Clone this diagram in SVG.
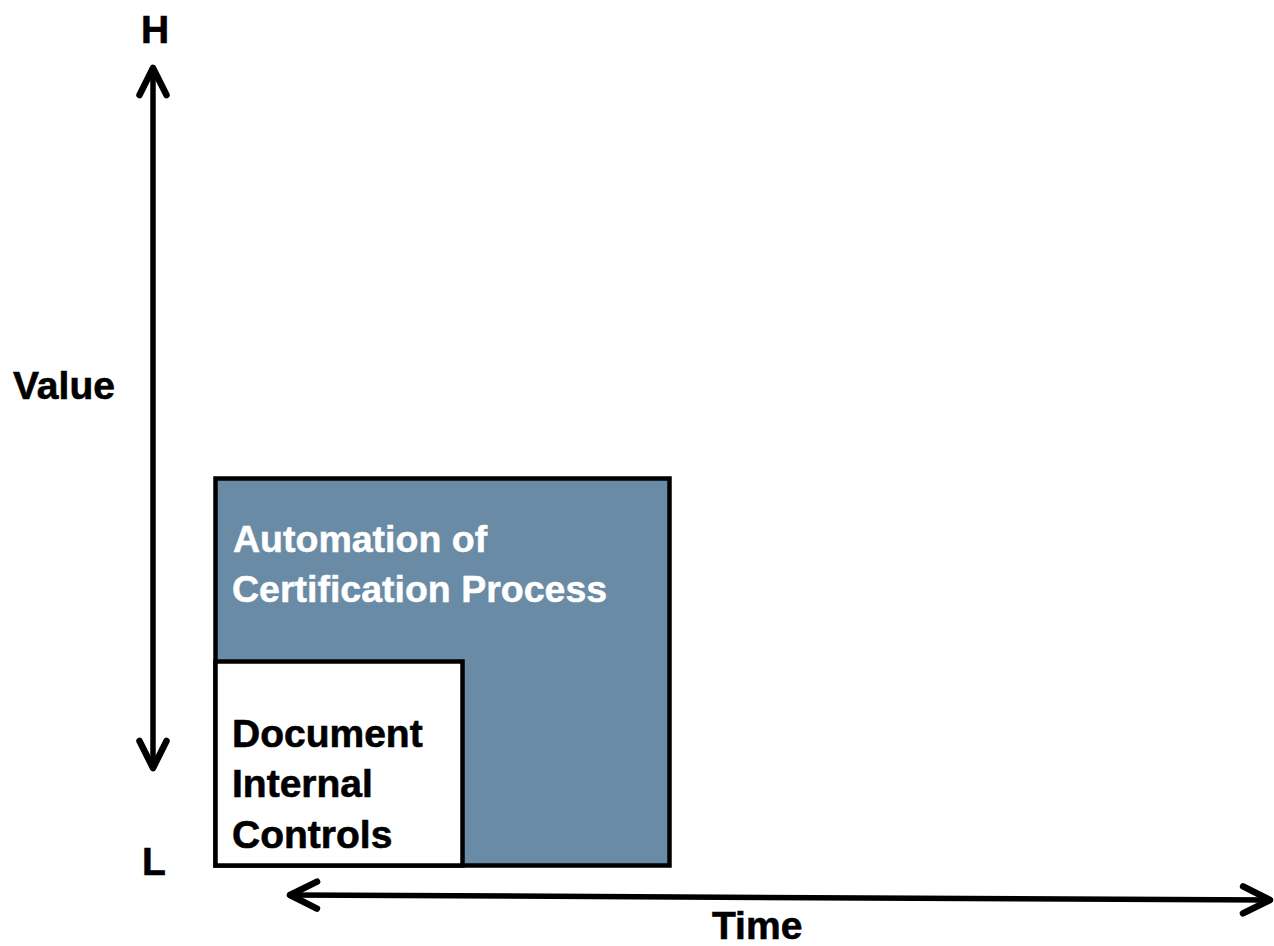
<svg xmlns="http://www.w3.org/2000/svg" width="1274" height="946" viewBox="0 0 1274 946">
  <style>
    .lbl { font-family: "Liberation Sans", Arial, sans-serif; font-weight: bold; font-size: 39px; fill: #000; stroke: #000; stroke-width: 0.6; }
    .lbl-w { font-size: 37.5px; fill: #fff; stroke: #fff; stroke-width: 0.5; }
    .axis { fill: none; stroke: #000; stroke-width: 5.5; stroke-linecap: round; }
    .box { stroke: #000; stroke-width: 4.5; }
  </style>
  <defs>
    <marker id="chev" markerUnits="userSpaceOnUse" viewBox="-32 -18 36 36" markerWidth="36" markerHeight="36" refX="0" refY="0" orient="auto-start-reverse" overflow="visible">
      <path d="M-27,-13.5 L0,0 L-27,13.5" fill="none" stroke="#000" stroke-width="6.5" stroke-linecap="round" stroke-linejoin="round"/>
    </marker>
  </defs>

  <rect width="1274" height="946" fill="#fff"/>

  <!-- axes -->
  <g id="connectors">
    <line class="axis" x1="153" y1="68" x2="153" y2="768" marker-start="url(#chev)" marker-end="url(#chev)"/>
    <line class="axis" x1="290" y1="895" x2="1270" y2="900" marker-start="url(#chev)" marker-end="url(#chev)"/>
  </g>

  <!-- axis labels -->
  <g id="axis-labels">
    <text class="lbl" x="155" y="43" text-anchor="middle">H</text>
    <text class="lbl" x="142" y="875">L</text>
    <text class="lbl" x="13" y="399">Value</text>
    <text class="lbl" x="712" y="939">Time</text>
  </g>

  <g id="automation">
    <rect class="box" x="215.5" y="478.5" width="454" height="387" fill="#6a8ba5"/>
    <text class="lbl lbl-w" x="233" y="552">Automation of</text>
    <text class="lbl lbl-w" x="232" y="602">Certification Process</text>
  </g>

  <g id="document-controls">
    <rect class="box" x="215.5" y="661.5" width="247" height="204" fill="#fff"/>
    <text class="lbl" x="232" y="747">Document</text>
    <text class="lbl" x="232" y="797">Internal</text>
    <text class="lbl" x="232" y="848">Controls</text>
  </g>
</svg>
